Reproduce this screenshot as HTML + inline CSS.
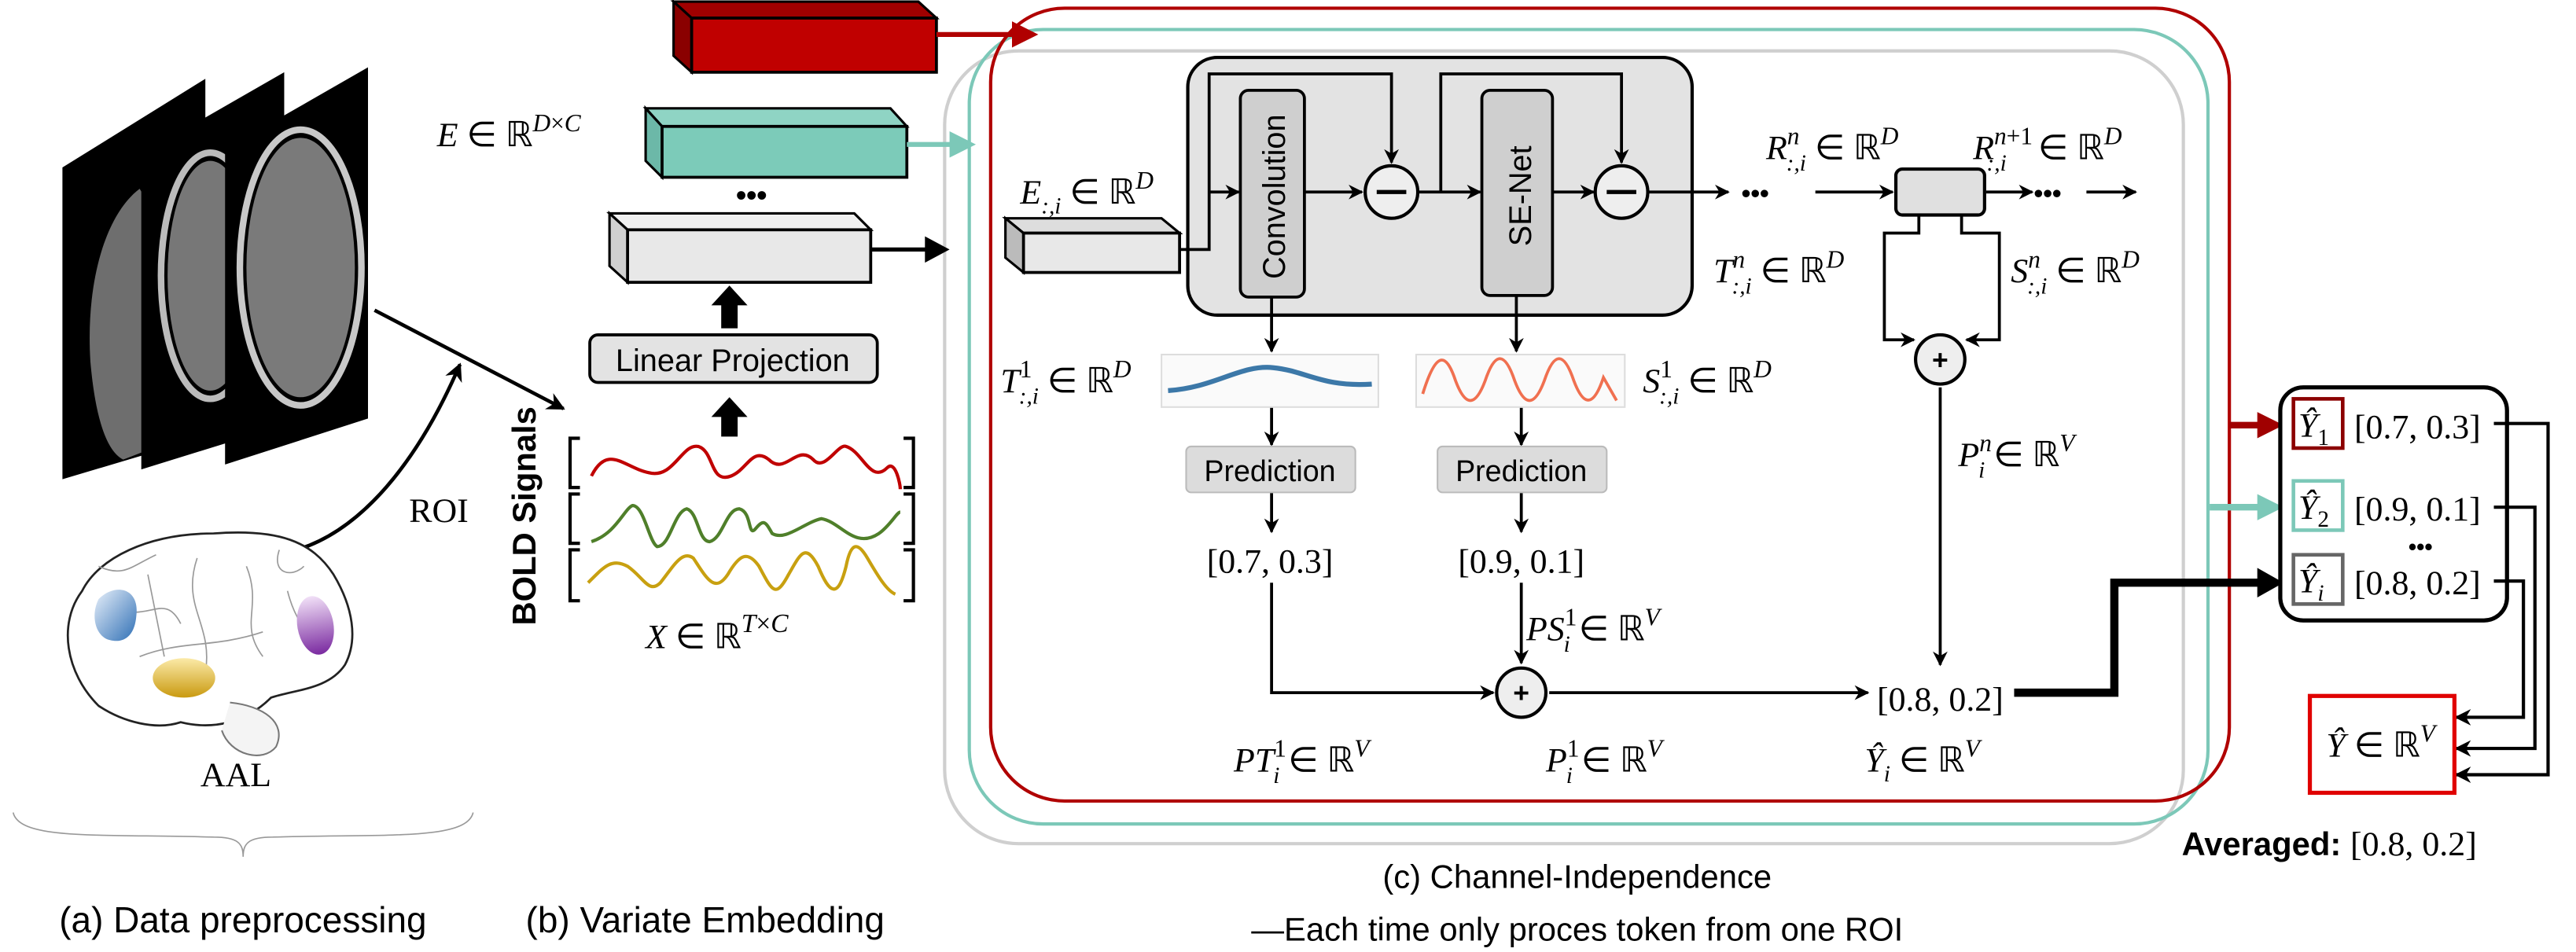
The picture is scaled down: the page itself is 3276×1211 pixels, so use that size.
<!DOCTYPE html>
<html><head><meta charset="utf-8"><style>
html,body{margin:0;padding:0;background:#fff;width:3276px;height:1211px;overflow:hidden}
svg{display:block}
.m{font-family:"Liberation Serif",serif;font-size:21px}
.i{font-style:italic}
.s{font-family:"Liberation Sans","DejaVu Sans",sans-serif}
</style></head><body>
<svg width="3276" height="1211" viewBox="0 0 1568 580" preserveAspectRatio="none" xmlns="http://www.w3.org/2000/svg">
<defs>
<marker id="ah" viewBox="0 0 10 10" refX="9" refY="5" markerWidth="5" markerHeight="5" orient="auto"><path d="M0,0 L10,5 L0,10 L3,5z" fill="#000"/></marker>
<linearGradient id="bl" x1="0" y1="0" x2="1" y2="1"><stop offset="0" stop-color="#e8f0fa"/><stop offset="1" stop-color="#2f6fb5"/></linearGradient>
<linearGradient id="yl" x1="0" y1="0" x2="0" y2="1"><stop offset="0" stop-color="#fbeaa8"/><stop offset="1" stop-color="#c99a10"/></linearGradient>
<linearGradient id="pl" x1="0" y1="0" x2="0" y2="1"><stop offset="0" stop-color="#f1e0f7"/><stop offset="1" stop-color="#7a2aa0"/></linearGradient>
</defs>

<!-- MRI slices -->
<polygon points="38,102 125,48 125,266 38,292" fill="#000"/>
<path d="M85,115 C65,130 52,170 55,220 C58,255 65,275 75,280 L88,275 L88,120Z" fill="#6e6e6e"/>
<polygon points="86,94 173,44 173,259 86,286" fill="#000"/>
<ellipse cx="128" cy="168" rx="30" ry="75" fill="none" stroke="#bbb" stroke-width="4"/>
<ellipse cx="128" cy="168" rx="26" ry="70" fill="#777"/>
<polygon points="137,91 224,41 224,255 137,283" fill="#000"/>
<ellipse cx="183" cy="163" rx="37" ry="84" fill="none" stroke="#c8c8c8" stroke-width="4"/>
<ellipse cx="183" cy="163" rx="33" ry="79" fill="#7a7a7a"/>
<path d="M228,189 L343,249" stroke="#000" stroke-width="2.2" marker-end="url(#ah)"/>
<path d="M177,336 C220,325 255,280 280,222" fill="none" stroke="#000" stroke-width="2.2" marker-end="url(#ah)"/>
<text x="249" y="318" class="m" font-size="21">ROI</text>

<!-- brain -->
<path d="M60,430 C40,410 35,380 50,360 C60,340 90,325 130,325 C170,322 190,330 203,350 C215,370 218,390 210,405 C200,420 180,420 165,425 C150,440 130,445 110,440 C95,445 75,440 60,430Z" fill="#fff" stroke="#222" stroke-width="1.3"/>
<path d="M140,428 C160,430 175,440 168,455 C160,465 140,460 135,445" fill="#f4f4f4" stroke="#777" stroke-width="1"/>
<path d="M90,350 L100,400 M120,340 C110,370 130,380 125,410 M150,345 C160,370 145,380 160,400 M70,370 C90,380 100,360 110,380 M175,360 C180,380 190,390 200,395 M85,400 C110,390 130,395 160,385 M60,345 C75,352 80,345 95,338 M170,335 C165,350 178,352 185,345" stroke="#999" fill="none" stroke-width="0.8"/>
<path d="M60,365 C70,355 85,358 83,375 C82,388 75,392 67,390 C58,388 55,375 60,365Z" fill="url(#bl)"/>
<ellipse cx="112" cy="413" rx="19" ry="12" fill="url(#yl)"/>
<ellipse cx="192" cy="381" rx="11" ry="18" fill="url(#pl)" transform="rotate(-10 192 381)"/>
<text x="122" y="479" class="m" font-size="22">AAL</text>
<path d="M8,495 C12,512 60,508 130,510 C145,510 148,514 148,522 C148,514 151,510 166,510 C236,508 284,512 288,495" fill="none" stroke="#999" stroke-width="0.8"/>
<text x="36" y="568" class="s" font-size="22">(a) Data preprocessing</text>
<text x="320" y="568" class="s" font-size="22">(b) Variate Embedding</text>

<!-- channel independence frames -->
<rect x="575" y="31" width="754" height="483" rx="45" fill="#fff" stroke="#cfcfcf" stroke-width="2"/>
<rect x="590" y="18" width="754" height="484" rx="45" fill="none" stroke="#7cc8b8" stroke-width="2"/>
<rect x="603" y="5" width="754" height="483" rx="45" fill="none" stroke="#b00000" stroke-width="2"/>

<!-- prisms -->
<polygon points="410,1 559,1 570,11 421,11" fill="#a00000" stroke="#000" stroke-width="1.5"/>
<polygon points="410,1 421,11 421,44 410,34" fill="#8a0000" stroke="#000" stroke-width="1.5"/>
<rect x="421" y="11" width="149" height="33" fill="#c00000" stroke="#000" stroke-width="1.8"/>
<path d="M570,21 L618,21" stroke="#b00000" stroke-width="3"/>
<polygon points="616,13 632,21 616,29" fill="#b00000"/>

<polygon points="393,66 542,66 552,77 403,77" fill="#8fd4c4" stroke="#000" stroke-width="1.5"/>
<polygon points="393,66 403,77 403,108 393,98" fill="#6cb8a8" stroke="#000" stroke-width="1.5"/>
<rect x="403" y="77" width="149" height="31" fill="#7ccbb9" stroke="#000" stroke-width="1.8"/>
<path d="M552,88 L580,88" stroke="#7cc8b8" stroke-width="3"/>
<polygon points="578,80 594,88 578,96" fill="#7cc8b8"/>
<text x="266" y="89" class="m"><tspan class="i">E</tspan> ∈ ℝ<tspan font-size="15" dy="-9" class="i">D</tspan><tspan font-size="15">×</tspan><tspan font-size="15" class="i">C</tspan></text>
<text x="448" y="125" font-size="18" font-weight="bold" font-family="Liberation Sans">•••</text>

<polygon points="371,130 520,130 530,140 382,140" fill="#f0f0f0" stroke="#000" stroke-width="1.5"/>
<polygon points="371,130 382,140 382,172 371,162" fill="#d0d0d0" stroke="#000" stroke-width="1.5"/>
<rect x="382" y="140" width="148" height="32" fill="#e8e8e8" stroke="#000" stroke-width="1.8"/>
<path d="M530,152 L565,152" stroke="#000" stroke-width="2.5"/>
<polygon points="563,144 578,152 563,160" fill="#000"/>
<polygon points="439,200 449,200 449,186 455,186 444,174 433,186 439,186" fill="#000"/>
<rect x="359" y="204" width="175" height="29" rx="5" fill="#e3e3e3" stroke="#000" stroke-width="1.8"/>
<text x="446" y="226" class="s" font-size="19" text-anchor="middle">Linear Projection</text>
<polygon points="439,266 449,266 449,254 455,254 444,242 433,254 439,254" fill="#000"/>
<text transform="translate(326,381) rotate(-90)" class="s" font-size="20" font-weight="bold">BOLD Signals</text>
<g fill="none" stroke="#000" stroke-width="2">
<path d="M353,267 L347,267 L347,297 L353,297 M550,267 L556,267 L556,297 L550,297"/>
<path d="M353,301 L347,301 L347,331 L353,331 M550,301 L556,301 L556,331 L550,331"/>
<path d="M353,335 L347,335 L347,366 L353,366 M550,335 L556,335 L556,366 L550,366"/>
</g>
<path d="M360,290 C370,270 380,285 395,288 C410,292 415,270 425,272 C435,275 432,295 445,290 C455,286 458,272 468,280 C478,290 485,270 495,280 C502,288 510,270 515,272 C525,275 530,295 540,285 C545,280 548,295 548,298" fill="none" stroke="#c00000" stroke-width="2"/>
<path d="M360,330 C375,325 380,310 385,308 C392,308 395,330 400,333 C408,333 410,312 418,310 C425,312 425,330 432,330 C440,328 442,310 450,310 C458,312 455,328 460,322 C465,316 466,318 470,325 C478,330 490,318 500,316 C512,318 520,335 535,325 C542,320 546,312 548,312" fill="none" stroke="#4f7f2a" stroke-width="2"/>
<path d="M358,355 C368,345 372,340 382,345 C392,352 395,362 402,355 C410,345 415,335 422,340 C430,352 435,362 443,350 C450,338 455,335 462,345 C470,360 472,365 480,350 C487,338 490,330 498,345 C505,362 510,365 515,345 C518,330 522,330 528,340 C535,352 540,360 545,362" fill="none" stroke="#c8a010" stroke-width="2"/>
<text x="393" y="395" class="m" font-size="23"><tspan class="i">X</tspan> ∈ ℝ<tspan font-size="16" dy="-10" class="i">T</tspan><tspan font-size="16">×</tspan><tspan font-size="16" class="i">C</tspan></text>

<rect x="723" y="35" width="307" height="157" rx="18" fill="#e3e3e3" stroke="#000" stroke-width="2"/>
<rect x="755" y="55" width="39" height="126" rx="5" fill="#cfcfcf" stroke="#000" stroke-width="1.8"/>
<text transform="translate(782,170) rotate(-90)" class="s" font-size="19">Convolution</text>
<rect x="902" y="55" width="43" height="125" rx="5" fill="#cfcfcf" stroke="#000" stroke-width="1.8"/>
<text transform="translate(932,150) rotate(-90)" class="s" font-size="19">SE-Net</text>

<!-- E prism -->
<polygon points="612,133 707,133 718,142 623,142" fill="#ddd" stroke="#000" stroke-width="1.5"/>
<polygon points="612,133 623,142 623,166 612,157" fill="#bbb" stroke="#000" stroke-width="1.5"/>
<rect x="623" y="142" width="95" height="24" fill="#e8e8e8" stroke="#000" stroke-width="1.8"/>
<text x="621" y="124" class="m"><tspan class="i">E</tspan><tspan font-size="14" dy="6" class="i">:,i</tspan><tspan dy="-6"> ∈ ℝ</tspan><tspan font-size="15" dy="-9" class="i">D</tspan></text>

<g fill="none" stroke="#000" stroke-width="1.8">
<path d="M718,152 L736,152 L736,45 L847,45 L847,99" marker-end="url(#ah)"/>
<path d="M736,117 L754,117" marker-end="url(#ah)"/>
<path d="M794,117 L829,117" marker-end="url(#ah)"/>
<path d="M863,117 L901,117" marker-end="url(#ah)"/>
<path d="M877,117 L877,45 L987,45 L987,99"  marker-end="url(#ah)"/>
<path d="M945,117 L970,117" marker-end="url(#ah)"/>
<path d="M1003,117 L1052,117" marker-end="url(#ah)"/>
<path d="M1105,117 L1152,117" marker-end="url(#ah)"/>
<path d="M1209,117 L1237,117" marker-end="url(#ah)"/>
<path d="M1270,117 L1300,117" marker-end="url(#ah)"/>
<path d="M1168,131 L1168,142 L1147,142 L1147,207 L1165,207" marker-end="url(#ah)"/>
<path d="M1194,131 L1194,142 L1217,142 L1217,207 L1197,207" marker-end="url(#ah)"/>
<path d="M1181,236 L1181,405" marker-end="url(#ah)"/>
<path d="M774,181 L774,214" marker-end="url(#ah)"/>
<path d="M923,180 L923,214" marker-end="url(#ah)"/>
<path d="M774,248 L774,271" marker-end="url(#ah)"/>
<path d="M926,248 L926,271" marker-end="url(#ah)"/>
<path d="M774,300 L774,324" marker-end="url(#ah)"/>
<path d="M926,300 L926,324" marker-end="url(#ah)"/>
<path d="M774,355 L774,422 L909,422" marker-end="url(#ah)"/>
<path d="M926,355 L926,404" marker-end="url(#ah)"/>
<path d="M943,422 L1137,422" marker-end="url(#ah)"/>
</g>
<circle cx="847" cy="117" r="16" fill="#eee" stroke="#000" stroke-width="2"/>
<path d="M838,117 L856,117" stroke="#000" stroke-width="2.5"/>
<circle cx="987" cy="117" r="16" fill="#eee" stroke="#000" stroke-width="2"/>
<path d="M978,117 L996,117" stroke="#000" stroke-width="2.5"/>
<text x="1060" y="123" font-size="16" font-weight="bold" font-family="Liberation Sans">•••</text>
<text x="1238" y="123" font-size="16" font-weight="bold" font-family="Liberation Sans">•••</text>
<rect x="1154" y="103" width="54" height="28" rx="4" fill="#e0e0e0" stroke="#000" stroke-width="2"/>
<text x="1075" y="97" class="m"><tspan class="i">R</tspan><tspan font-size="15" dy="-9" class="i">n</tspan><tspan font-size="14" dx="-8" dy="16" class="i">:,i</tspan><tspan dy="-7"> ∈ ℝ</tspan><tspan font-size="15" dy="-9" class="i">D</tspan></text>
<text x="1201" y="97" class="m"><tspan class="i">R</tspan><tspan font-size="15" dy="-9" class="i">n</tspan><tspan font-size="15">+1</tspan><tspan font-size="14" dx="-28" dy="16" class="i">:,i</tspan><tspan dy="-7" dx="14"> ∈ ℝ</tspan><tspan font-size="15" dy="-9" class="i">D</tspan></text>
<text x="1043" y="172" class="m"><tspan class="i">T</tspan><tspan font-size="15" dy="-9" class="i">n</tspan><tspan font-size="14" dx="-8" dy="16" class="i">:,i</tspan><tspan dy="-7"> ∈ ℝ</tspan><tspan font-size="15" dy="-9" class="i">D</tspan></text>
<text x="1224" y="172" class="m"><tspan class="i">S</tspan><tspan font-size="15" dy="-9" class="i">n</tspan><tspan font-size="14" dx="-8" dy="16" class="i">:,i</tspan><tspan dy="-7"> ∈ ℝ</tspan><tspan font-size="15" dy="-9" class="i">D</tspan></text>
<circle cx="1181" cy="219" r="15" fill="#eee" stroke="#000" stroke-width="2"/>
<text x="1181" y="225" font-size="17" font-weight="bold" text-anchor="middle" font-family="Liberation Sans">+</text>
<text x="1192" y="284" class="m"><tspan class="i">P</tspan><tspan font-size="15" dy="-9" class="i">n</tspan><tspan font-size="14" dx="-8" dy="16" class="i">i</tspan><tspan dy="-7"> ∈ ℝ</tspan><tspan font-size="15" dy="-9" class="i">V</tspan></text>

<text x="609" y="239" class="m"><tspan class="i">T</tspan><tspan font-size="15" dy="-9">1</tspan><tspan font-size="14" dx="-8" dy="16" class="i">:,i</tspan><tspan dy="-7"> ∈ ℝ</tspan><tspan font-size="15" dy="-9" class="i">D</tspan></text>
<rect x="707" y="216" width="132" height="32" fill="#fafafa" stroke="#ddd" stroke-width="1"/>
<path d="M711,238 C740,236 755,222 775,224 C795,226 805,236 835,234" fill="none" stroke="#3c78a8" stroke-width="3"/>
<rect x="862" y="216" width="127" height="32" fill="#fafafa" stroke="#ddd" stroke-width="1"/>
<path d="M866,240 C874,214 880,214 886,232 C892,248 898,248 904,232 C910,214 916,214 922,232 C928,248 934,248 940,232 C946,214 952,214 958,232 C964,248 970,248 976,230 L984,244" fill="none" stroke="#f07050" stroke-width="1.8"/>
<text x="1000" y="239" class="m"><tspan class="i">S</tspan><tspan font-size="15" dy="-9">1</tspan><tspan font-size="14" dx="-8" dy="16" class="i">:,i</tspan><tspan dy="-7"> ∈ ℝ</tspan><tspan font-size="15" dy="-9" class="i">D</tspan></text>
<rect x="722" y="272" width="103" height="28" rx="3" fill="#dcdcdc" stroke="#bbb"/>
<text x="773" y="293" class="s" font-size="18" text-anchor="middle">Prediction</text>
<rect x="875" y="272" width="103" height="28" rx="3" fill="#dcdcdc" stroke="#bbb"/>
<text x="926" y="293" class="s" font-size="18" text-anchor="middle">Prediction</text>
<text x="773" y="349" class="m" text-anchor="middle">[0.7, 0.3]</text>
<text x="926" y="349" class="m" text-anchor="middle">[0.9, 0.1]</text>
<text x="929" y="390" class="m"><tspan class="i">PS</tspan><tspan font-size="15" dy="-9">1</tspan><tspan font-size="14" dx="-8" dy="16" class="i">i</tspan><tspan dy="-7"> ∈ ℝ</tspan><tspan font-size="15" dy="-9" class="i">V</tspan></text>
<circle cx="926" cy="422" r="15" fill="#eee" stroke="#000" stroke-width="2"/>
<text x="926" y="428" font-size="17" font-weight="bold" text-anchor="middle" font-family="Liberation Sans">+</text>
<text x="1181" y="433" class="m" text-anchor="middle">[0.8, 0.2]</text>
<path d="M1226,422 L1287,422 L1287,355 L1376,355" fill="none" stroke="#000" stroke-width="5"/>
<polygon points="1374,346 1390,355 1374,364" fill="#000"/>
<text x="751" y="470" class="m"><tspan class="i">PT</tspan><tspan font-size="15" dy="-9">1</tspan><tspan font-size="14" dx="-8" dy="16" class="i">i</tspan><tspan dy="-7"> ∈ ℝ</tspan><tspan font-size="15" dy="-9" class="i">V</tspan></text>
<text x="941" y="470" class="m"><tspan class="i">P</tspan><tspan font-size="15" dy="-9">1</tspan><tspan font-size="14" dx="-8" dy="16" class="i">i</tspan><tspan dy="-7"> ∈ ℝ</tspan><tspan font-size="15" dy="-9" class="i">V</tspan></text>
<text x="1135" y="470" class="m"><tspan class="i">Ŷ</tspan><tspan font-size="14" dy="6" class="i">i</tspan><tspan dy="-6"> ∈ ℝ</tspan><tspan font-size="15" dy="-9" class="i">V</tspan></text>

<text x="960" y="541" class="s" font-size="20" text-anchor="middle">(c) Channel-Independence</text>
<text x="960" y="573" class="s" font-size="20" text-anchor="middle">—Each time only proces token from one ROI</text>

<!-- right -->
<path d="M1357,259 L1376,259" stroke="#a00000" stroke-width="4"/>
<polygon points="1374,251 1390,259 1374,267" fill="#a00000"/>
<path d="M1345,309 L1376,309" stroke="#7cc8b8" stroke-width="4"/>
<polygon points="1374,301 1390,309 1374,317" fill="#7cc8b8"/>
<rect x="1388" y="236" width="138" height="142" rx="14" fill="#fff" stroke="#000" stroke-width="2.5"/>
<rect x="1396" y="243" width="30" height="30" fill="none" stroke="#8b0000" stroke-width="2.2"/>
<rect x="1396" y="293" width="30" height="30" fill="none" stroke="#7cc8b8" stroke-width="2.2"/>
<rect x="1396" y="338" width="30" height="30" fill="none" stroke="#666" stroke-width="2.2"/>
<text x="1399" y="266" class="m"><tspan class="i">Ŷ</tspan><tspan font-size="14" dy="5">1</tspan></text>
<text x="1399" y="316" class="m"><tspan class="i">Ŷ</tspan><tspan font-size="14" dy="5">2</tspan></text>
<text x="1399" y="361" class="m"><tspan class="i">Ŷ</tspan><tspan font-size="14" dy="5" class="i">i</tspan></text>
<text x="1433" y="267" class="m">[0.7, 0.3]</text>
<text x="1433" y="317" class="m">[0.9, 0.1]</text>
<text x="1433" y="362" class="m">[0.8, 0.2]</text>
<text x="1466" y="338" font-size="14" font-weight="bold" font-family="Liberation Sans">•••</text>
<g fill="none" stroke="#000" stroke-width="2">
<path d="M1518,258 L1551,258 L1551,472 L1495,472" marker-end="url(#ah)"/>
<path d="M1518,309 L1543,309 L1543,456 L1495,456" marker-end="url(#ah)"/>
<path d="M1518,354 L1536,354 L1536,437 L1495,437" marker-end="url(#ah)"/>
</g>
<rect x="1406" y="424" width="88" height="59" fill="#fff" stroke="#e00000" stroke-width="2.5"/>
<text x="1416" y="461" class="m"><tspan class="i">Ŷ</tspan> ∈ ℝ<tspan font-size="15" dy="-9" class="i">V</tspan></text>
<text x="1328" y="521" class="s" font-size="20" font-weight="bold">Averaged: <tspan class="m" font-weight="normal" font-size="22">[0.8, 0.2]</tspan></text>
</svg>
</body></html>
